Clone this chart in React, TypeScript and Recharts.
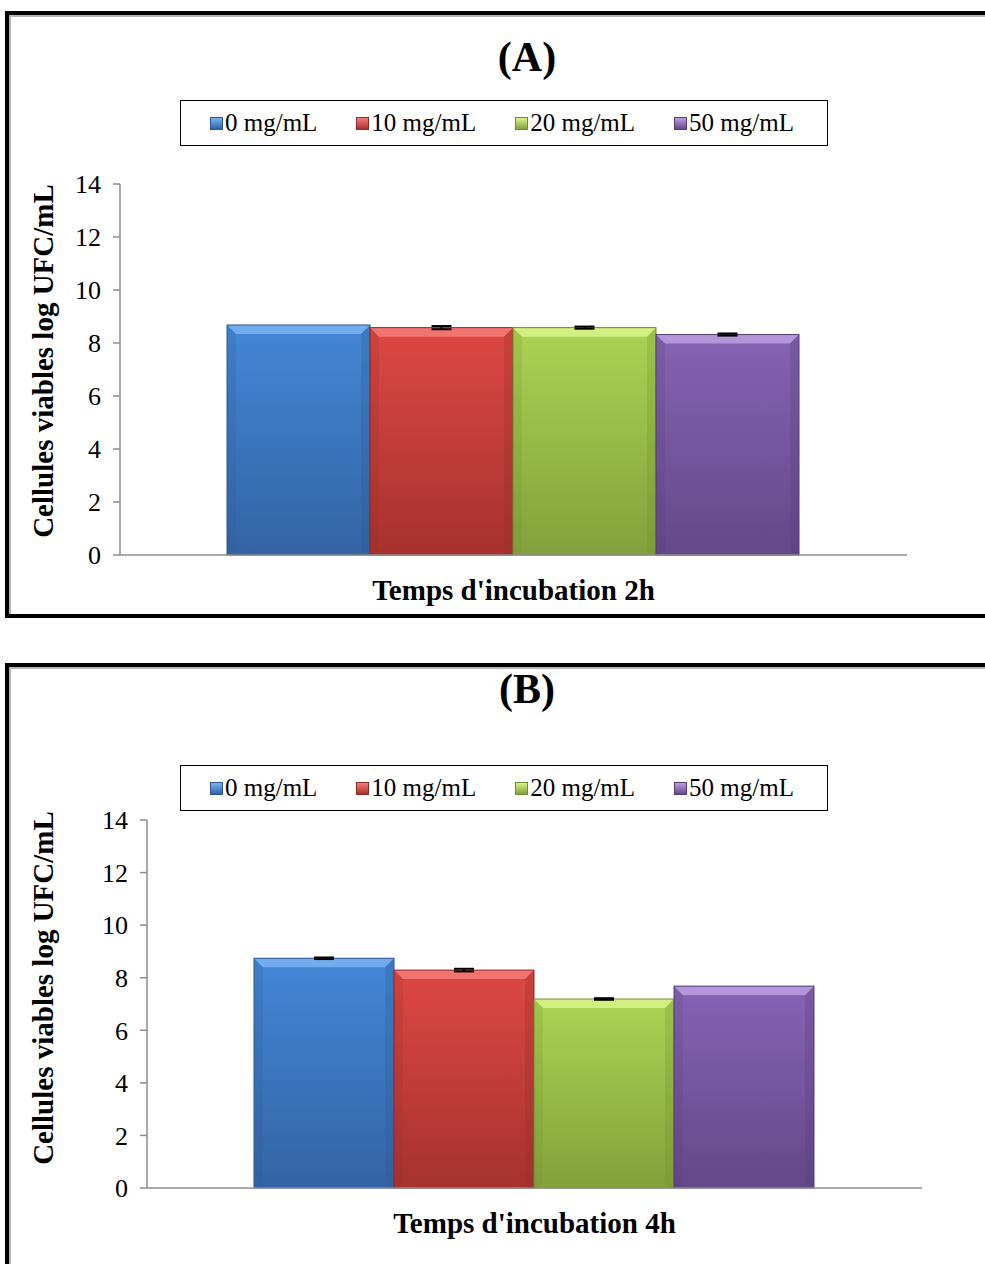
import React from 'react';
import { BarChart, Bar, XAxis, YAxis, ErrorBar } from 'recharts';

const seriesNames = ['0 mg/mL', '10 mg/mL', '20 mg/mL', '50 mg/mL'];
const seriesKeys = ['c0', 'c10', 'c20', 'c50'];
const yTicks = [0, 2, 4, 6, 8, 10, 12, 14];

const categoryA = ["Temps d'incubation 2h"];
const valuesA = [8.68, 8.58, 8.58, 8.32];
const errorsA = [0, 0.06, 0.04, 0.04];

const categoryB = ["Temps d'incubation 4h"];
const valuesB = [8.74, 8.29, 7.19, 7.68];
const errorsB = [0.03, 0.05, 0.03, 0];

// top-light / bottom-dark / bevel highlight / edge
const PALETTE = [
  { top: '#4487d6', bottom: '#3363a4', bevel: '#79b3f2', edge: '#2c568f' },
  { top: '#dd4843', bottom: '#a6322e', bevel: '#f47d79', edge: '#8e2a27' },
  { top: '#aad453', bottom: '#82a13b', bevel: '#d9f48a', edge: '#6f8a31' },
  { top: '#8763b4', bottom: '#644889', bevel: '#bc9fe0', edge: '#553c76' },
];

const FONT = '"Liberation Serif", "Times New Roman", serif';

const buildRows = (cats: string[], vals: number[], errs: number[]) =>
  cats.map((name) => {
    const row: any = { name };
    seriesKeys.forEach((k, i) => {
      row[k] = vals[i];
      row[k + 'err'] = errs[i];
    });
    return row;
  });

const BevelBar = (props: any) => {
  const { x, y, width, height, index, colorIdx, chartId } = props;
  if (height <= 0) return null;
  const c = PALETTE[colorIdx];
  const b = 9;
  const gid = `g-${chartId}-${colorIdx}-${index}`;
  return (
    <g>
      <defs>
        <linearGradient id={gid} x1="0" y1="0" x2="0" y2="1">
          <stop offset="0%" stopColor={c.top} />
          <stop offset="100%" stopColor={c.bottom} />
        </linearGradient>
      </defs>
      <rect x={x} y={y} width={width} height={height} fill={`url(#${gid})`} />
      <polygon
        points={`${x},${y} ${x + width},${y} ${x + width - b},${y + b} ${x + b},${y + b}`}
        fill={c.bevel}
        opacity={0.85}
      />
      <polygon
        points={`${x},${y} ${x + b},${y + b} ${x + b},${y + height - 3} ${x},${y + height}`}
        fill={c.edge}
        opacity={0.18}
      />
      <polygon
        points={`${x + width},${y} ${x + width - b},${y + b} ${x + width - b},${y + height - 3} ${x + width},${y + height}`}
        fill={c.edge}
        opacity={0.25}
      />
      <rect x={x} y={y} width={width} height={height} fill="none" stroke={c.edge} strokeWidth={1} />
    </g>
  );
};

const LegendBox: React.FC<{ top: number }> = ({ top }) => (
  <div
    style={{
      position: 'absolute',
      left: 180,
      top,
      width: 648,
      height: 46,
      border: '1.5px solid #000',
      background: '#fff',
      display: 'flex',
      alignItems: 'center',
      paddingLeft: 29,
      boxSizing: 'border-box',
      fontFamily: FONT,
      fontSize: 25,
      color: '#000',
    }}
  >
    {seriesNames.map((n, i) => (
      <div key={n} style={{ display: 'flex', alignItems: 'center', marginRight: i < 3 ? 39 : 0 }}>
        <div
          style={{
            width: 11,
            height: 11,
            marginRight: 2,
            background: `linear-gradient(${PALETTE[i].bevel}, ${PALETTE[i].bottom})`,
            border: `1px solid ${PALETTE[i].edge}`,
          }}
        />
        <span>{n}</span>
      </div>
    ))}
  </div>
);

const XTick = (props: any) => {
  const { x, y, payload } = props;
  return (
    <text x={x} y={y} dy={37} textAnchor="middle" fontFamily={FONT} fontWeight="bold" fontSize={29} fill="#000">
      {payload.value}
    </text>
  );
};

interface PanelProps {
  id: string;
  title: string;
  rows: any[];
  top: number;
  height: number;
  margin: { top: number; right: number; bottom: number; left: number };
  legendTop: number;
  titleTop: number;
  yLabelCenter: number;
}

const Panel: React.FC<PanelProps> = ({ id, title, rows, top, height, margin, legendTop, titleTop, yLabelCenter }) => (
  <div style={{ position: 'absolute', left: 0, top, width: 985, height }}>
    <div
      style={{
        position: 'absolute',
        left: 0,
        top: titleTop,
        width: 1054,
        textAlign: 'center',
        fontFamily: FONT,
        fontWeight: 'bold',
        fontSize: 42,
        lineHeight: '46px',
        color: '#000',
      }}
    >
      {title}
    </div>
    <div
      style={{
        position: 'absolute',
        left: 43 - 250,
        top: yLabelCenter - 17,
        width: 500,
        height: 34,
        lineHeight: '34px',
        textAlign: 'center',
        transform: 'rotate(-90deg)',
        fontFamily: FONT,
        fontWeight: 'bold',
        fontSize: 29,
        color: '#000',
        whiteSpace: 'nowrap',
      }}
    >
      Cellules viables log UFC/mL
    </div>
    <LegendBox top={legendTop} />
    <div style={{ position: 'absolute', left: 0, top: 0 }}>
      <BarChart width={985} height={height} data={rows} margin={margin} barGap={0} barCategoryGap={107}>
        <XAxis
          dataKey="name"
          axisLine={{ stroke: '#8c8c8c', strokeWidth: 1.5 }}
          tickLine={false}
          tick={<XTick />}
          height={50}
          interval={0}
        />
        <YAxis
          domain={[0, 14]}
          ticks={yTicks}
          width={60}
          axisLine={{ stroke: '#8c8c8c', strokeWidth: 1.5 }}
          tickLine={{ stroke: '#8c8c8c', strokeWidth: 1.5 }}
          tickSize={7}
          tickMargin={12}
          tick={{ fill: '#000', fontFamily: FONT, fontSize: 26 }}
        />
        {seriesKeys.map((k, i) => (
          <Bar
            key={k}
            dataKey={k}
            name={seriesNames[i]}
            fill={PALETTE[i].top}
            isAnimationActive={false}
            shape={<BevelBar colorIdx={i} chartId={id} />}
          >
            <ErrorBar dataKey={k + 'err'} width={10} stroke="#000" strokeWidth={2} direction="y" />
          </Bar>
        ))}
      </BarChart>
    </div>
  </div>
);

export default function App() {
  return (
    <div
      style={{
        position: 'absolute',
        left: 0,
        top: 0,
        width: 985,
        height: 1264,
        overflow: 'hidden',
        background: '#fff',
      }}
    >
      <div
        style={{
          position: 'absolute',
          left: 5,
          top: 11,
          width: 1000,
          height: 607,
          border: '4px solid #000',
          boxShadow: 'inset 1px 1px 0 1px #b5b5b5',
          boxSizing: 'border-box',
        }}
      />
      <div
        style={{
          position: 'absolute',
          left: 5,
          top: 663,
          width: 1000,
          height: 700,
          border: '4px solid #000',
          boxShadow: 'inset 1px 1px 0 1px #b5b5b5',
          boxSizing: 'border-box',
        }}
      />
      <Panel
        id="a"
        title="(A)"
        rows={buildRows(categoryA, valuesA, errorsA)}
        top={0}
        height={640}
        margin={{ top: 184, right: 78, bottom: 35, left: 60 }}
        legendTop={100}
        titleTop={34}
        yLabelCenter={361}
      />
      <Panel
        id="b"
        title="(B)"
        rows={buildRows(categoryB, valuesB, errorsB)}
        top={640}
        height={624}
        margin={{ top: 180, right: 63, bottom: 26, left: 87 }}
        legendTop={125}
        titleTop={26}
        yLabelCenter={348}
      />
    </div>
  );
}
